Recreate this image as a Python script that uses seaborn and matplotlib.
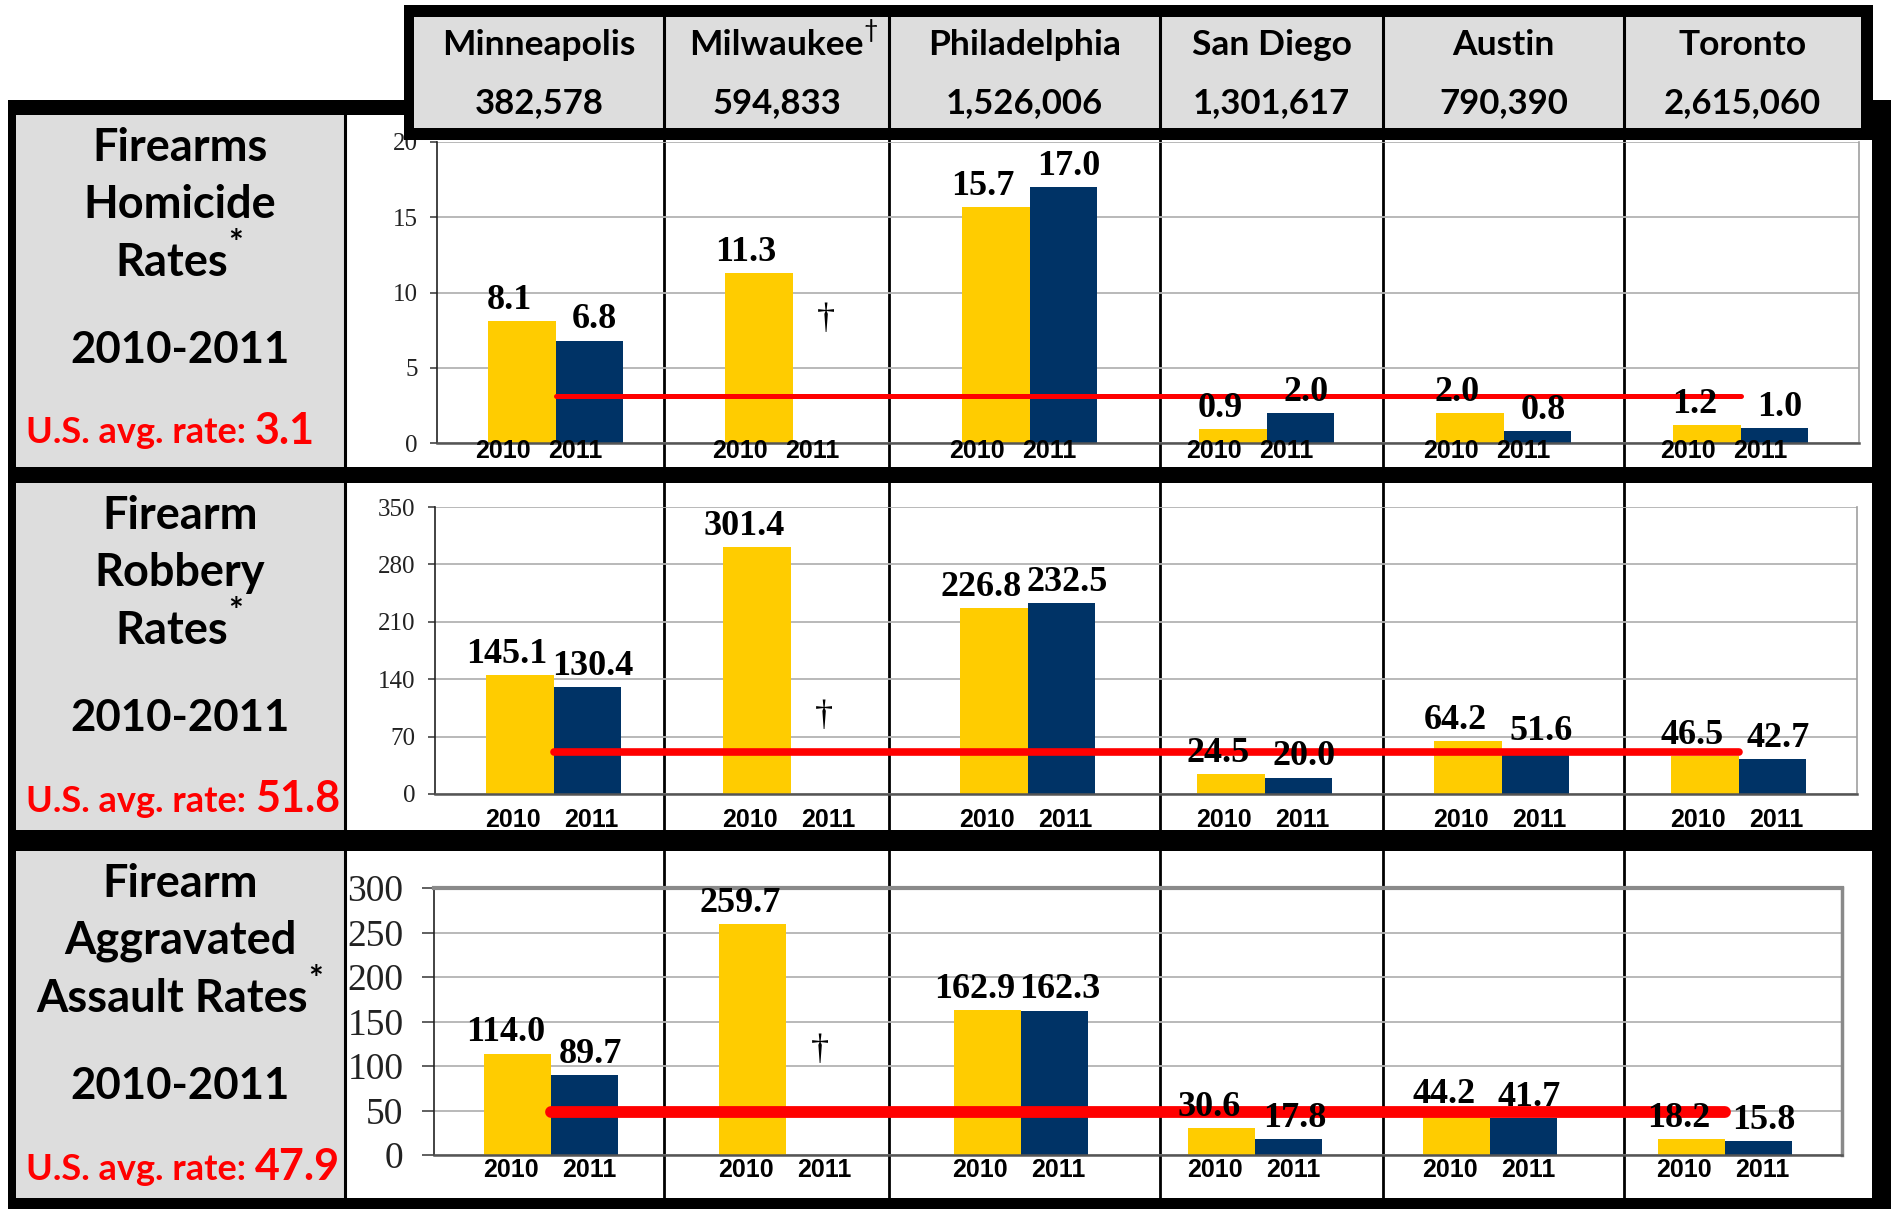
import matplotlib
matplotlib.use("Agg")
import numpy as np
import pandas as pd
import matplotlib.pyplot as plt
import matplotlib.transforms as mtransforms
from matplotlib.patches import Rectangle
from matplotlib.lines import Line2D
import seaborn as sns

# ---- data ----
cities = ["Minneapolis", "Milwaukee", "Philadelphia", "San Diego", "Austin", "Toronto"]
populations = ["382,578", "594,833", "1,526,006", "1,301,617", "790,390", "2,615,060"]
years = ["2010", "2011"]

homicide_2010 = [8.1, 11.3, 15.7, 0.9, 2.0, 1.2]
homicide_2011 = [6.8, None, 17.0, 2.0, 0.8, 1.0]
robbery_2010 = [145.1, 301.4, 226.8, 24.5, 64.2, 46.5]
robbery_2011 = [130.4, None, 232.5, 20.0, 51.6, 42.7]
assault_2010 = [114.0, 259.7, 162.9, 30.6, 44.2, 18.2]
assault_2011 = [89.7, None, 162.3, 17.8, 41.7, 15.8]

us_avg = [3.1, 51.8, 47.9]
row_titles = [["Firearms", "Homicide", "Rates"],
              ["Firearm", "Robbery", "Rates"],
              ["Firearm", "Aggravated", "Assault Rates"]]
period = "2010-2011"
yticks = [[0, 5, 10, 15, 20],
          [0, 70, 140, 210, 280, 350],
          [0, 50, 100, 150, 200, 250, 300]]

YELLOW = "#FFCC00"
NAVY = "#003366"
RED = "#FF0000"
GRAY = "#DDDDDD"

# ---- layout (pixels of the 1891x1209 canvas) ----
W, H = 1891, 1209
row_tops = [115, 483, 851]
row_bottoms = [467, 830, 1198]
axes_boxes = [(437, 142, 1859, 443), (435, 507, 1857, 794), (434, 888, 1842, 1155)]
col_edges = [414, 664, 889, 1160, 1383, 1624, 1861]
year_y = [-0.025, -0.09, -0.056]
year_dx = [(-0.08, -0.06), (-0.03, 0.015), (-0.03, 0.02)]
dagger_y = [0.41, 0.27, 0.39]
red_lw = [3.6, 5.5, 8.5]
tick_style = [dict(labelsize=18, length=5, pad=9),
              dict(labelsize=18, length=5, pad=9),
              dict(labelsize=27, length=9, pad=13)]
label_dx = [-9, 4]

fig = plt.figure(figsize=(W / 100, H / 100), dpi=100)
fig.patch.set_facecolor("white")


def fx(px):
    return px / W


def fy(py):
    return 1 - py / H


def rect(x0, y0, x1, y1, color, z):
    fig.add_artist(Rectangle((fx(x0), fy(y1)), fx(x1) - fx(x0), fy(y0) - fy(y1),
                             transform=fig.transFigure, facecolor=color,
                             edgecolor="none", zorder=z))


def vline(x, y0, y1, lw, z):
    fig.add_artist(Line2D([fx(x), fx(x)], [fy(y0), fy(y1)], transform=fig.transFigure,
                          color="black", lw=lw, zorder=z))


# outer frame and row bands
rect(8, 100, 1891, 115, "black", 1)
rect(8, 100, 16, 1209, "black", 1)
rect(1872, 100, 1891, 1209, "black", 1)
rect(8, 1198, 1891, 1209, "black", 1)
rect(16, 467, 1872, 483, "black", 1)
rect(16, 830, 1872, 851, "black", 1)
for t, b in zip(row_tops, row_bottoms):
    rect(16, t, 344, b, GRAY, 1)
vline(345, 115, 1198, 2.2, 1.5)
for x in col_edges[1:-1]:
    vline(x, 115, 1198, 2.0, -5)

# header
rect(404, 5, 1873, 140, "black", 2)
rect(414, 17, 1861, 128, GRAY, 2.1)
for x in col_edges[1:-1]:
    vline(x, 17, 128, 2.2, 2.2)

renderer = fig.canvas.get_renderer()
hdr_font = dict(family="Lato", fontweight="bold", zorder=3, ha="center", va="center")
for k, (c, p) in enumerate(zip(cities, populations)):
    cx = (col_edges[k] + col_edges[k + 1]) / 2
    t = fig.text(fx(cx), fy(45), c, fontsize=25.5, **hdr_font)
    fig.text(fx(cx), fy(103), p, fontsize=25, **hdr_font)
    if homicide_2011[k] is None:
        bb = t.get_window_extent(renderer)
        fig.text(bb.x1 / W, fy(30), "\u2020", family="Lato", fontsize=18,
                 ha="left", va="center", zorder=3)


def frame(v2010, v2011):
    rows = []
    for c, a, b in zip(cities, v2010, v2011):
        rows.append((c, "2010", a))
        if b is not None:
            rows.append((c, "2011", b))
    return pd.DataFrame(rows, columns=["City", "Year", "Rate"])


series = [(homicide_2010, homicide_2011), (robbery_2010, robbery_2011),
          (assault_2010, assault_2011)]
group_w = 0.57
bar_w = group_w / len(years)

for r, (v10, v11) in enumerate(series):
    l, t, rr, b = axes_boxes[r]
    ax = fig.add_axes([fx(l), fy(b), fx(rr) - fx(l), fy(t) - fy(b)])
    ax.set_facecolor("none")
    df = frame(v10, v11)
    sns.barplot(data=df, x="City", y="Rate", hue="Year", order=cities,
                hue_order=years, palette=[YELLOW, NAVY], width=group_w,
                saturation=1, errorbar=None, legend=False, ax=ax, zorder=2)
    for j, cont in enumerate(ax.containers):
        texts = ax.bar_label(cont, fmt="%.1f", padding=3, fontsize=26,
                             fontweight="bold", family="Liberation Serif", zorder=5)
        for txt in texts:
            txt.xyann = (label_dx[j], 3)
    ax.plot([0, len(cities) - 1], [us_avg[r], us_avg[r]], color=RED, lw=red_lw[r],
            solid_capstyle="round", zorder=4)

    ax.set_xlim(-0.5, len(cities) - 0.5)
    ax.set_ylim(0, yticks[r][-1])
    ax.set_yticks(yticks[r])
    ax.set_xticks([])
    ax.set_xlabel("")
    ax.set_ylabel("")
    ax.set_axisbelow(True)
    ax.yaxis.grid(True, color="#b3b3b3", lw=1.3)
    ax.tick_params(axis="y", width=1.2, color="#444444", labelcolor="#222222",
                   labelfontfamily="Liberation Serif", **tick_style[r])
    ax.spines["left"].set_color("#222222")
    ax.spines["left"].set_linewidth(1.2)
    ax.spines["bottom"].set_color("#555555")
    ax.spines["bottom"].set_linewidth(1.8)
    if r == 2:
        ax.spines["top"].set_color("#8a8a8a")
        ax.spines["top"].set_linewidth(3)
        ax.spines["right"].set_color("#8a8a8a")
        ax.spines["right"].set_linewidth(2.5)
    else:
        ax.spines["top"].set_visible(False)
        ax.spines["right"].set_color("#a0a0a0")
        ax.spines["right"].set_linewidth(1.2)

    trans = mtransforms.blended_transform_factory(ax.transData, ax.transAxes)
    for i in range(len(cities)):
        for j, yr in enumerate(years):
            x = i + (j - (len(years) - 1) / 2) * bar_w + year_dx[r][j]
            ax.text(x, year_y[r], yr, transform=trans, ha="center", va="center",
                    fontsize=18, fontweight="bold", family="Liberation Sans",
                    clip_on=False)
        if v11[i] is None:
            ax.text(i + bar_w / 2, dagger_y[r], "\u2020", transform=trans,
                    ha="center", va="center", fontsize=26,
                    family="Liberation Serif")

    # left label column
    top = row_tops[r]
    cx = 180
    lbl_font = dict(family="Lato", fontweight="bold", zorder=3,
                    ha="center", va="center")
    fig.text(fx(cx), fy(top + 33), row_titles[r][0], fontsize=32.5, **lbl_font)
    fig.text(fx(cx), fy(top + 90), row_titles[r][1], fontsize=32.5, **lbl_font)
    t3 = fig.text(fx(cx - 8), fy(top + 148), row_titles[r][2], fontsize=32.5,
                  **lbl_font)
    bb = t3.get_window_extent(renderer)
    fig.text(bb.x1 / W, fy(top + 129), "*", family="Lato",
             fontweight="bold", fontsize=25, ha="left", va="center", zorder=3)
    fig.text(fx(cx), fy(top + 235), period, fontsize=31.5, **lbl_font)
    fig.text(fx(255), fy(top + 318), "U.S. avg. rate: ", family="Lato",
             fontweight="bold", fontsize=26, color=RED, ha="right", va="center",
             zorder=3)
    fig.text(fx(255), fy(top + 316), f"{us_avg[r]:.1f}", family="Lato",
             fontweight="bold", fontsize=31, color=RED, ha="left", va="center",
             zorder=3)

fig.savefig("out.png", dpi=100)
